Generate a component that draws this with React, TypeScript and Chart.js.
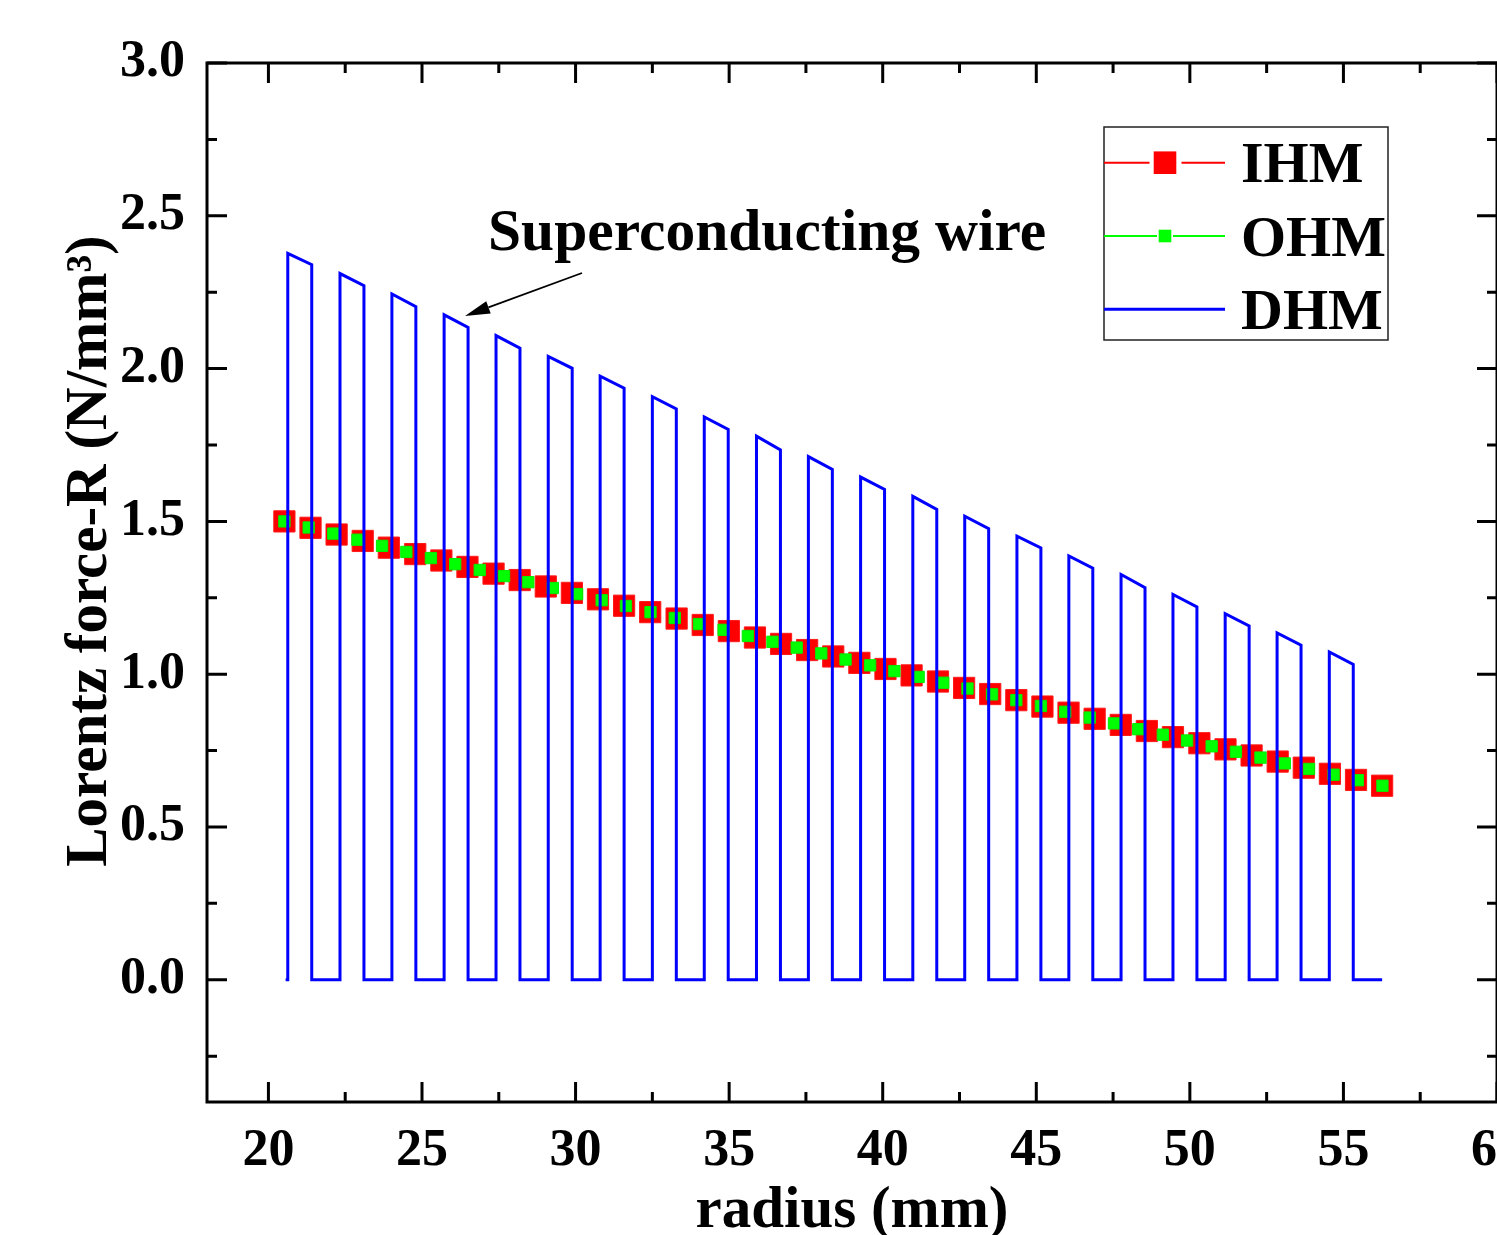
import React, { useEffect, useRef } from "react";
import { Chart, registerables } from "chart.js";

Chart.register(...registerables);

const FONT = '"Liberation Serif", "Times New Roman", Times, serif';

// ---- IHM (red squares)
const IHM_X = [20.52, 21.37, 22.22, 23.07, 23.92, 24.78, 25.63, 26.48, 27.33, 28.18, 29.03, 29.88, 30.73, 31.58, 32.43, 33.29, 34.14, 34.99, 35.84, 36.69, 37.54, 38.39, 39.24, 40.09, 40.94, 41.8, 42.65, 43.5, 44.35, 45.2, 46.05, 46.9, 47.75, 48.6, 49.45, 50.31, 51.16, 52.01, 52.86, 53.71, 54.56, 55.41, 56.26];
const IHM_Y = [1.5, 1.479, 1.457, 1.436, 1.414, 1.393, 1.372, 1.351, 1.329, 1.308, 1.287, 1.266, 1.245, 1.224, 1.203, 1.182, 1.161, 1.141, 1.12, 1.099, 1.079, 1.058, 1.037, 1.017, 0.996, 0.976, 0.955, 0.935, 0.915, 0.894, 0.874, 0.854, 0.834, 0.814, 0.794, 0.774, 0.754, 0.734, 0.714, 0.694, 0.674, 0.654, 0.635];

// ---- OHM (green squares)
const OHM_X = [20.52, 21.31, 22.11, 22.9, 23.7, 24.49, 25.29, 26.08, 26.88, 27.67, 28.46, 29.26, 30.05, 30.85, 31.64, 32.44, 33.23, 34.02, 34.82, 35.61, 36.41, 37.2, 38.0, 38.79, 39.59, 40.38, 41.17, 41.97, 42.76, 43.56, 44.35, 45.15, 45.94, 46.74, 47.53, 48.32, 49.12, 49.91, 50.71, 51.5, 52.3, 53.09, 53.88, 54.68, 55.47, 56.27];
const OHM_Y = [1.5, 1.48, 1.46, 1.44, 1.42, 1.4, 1.38, 1.36, 1.341, 1.321, 1.301, 1.282, 1.262, 1.242, 1.223, 1.203, 1.184, 1.164, 1.145, 1.125, 1.106, 1.087, 1.068, 1.048, 1.029, 1.01, 0.991, 0.972, 0.953, 0.934, 0.915, 0.896, 0.877, 0.858, 0.839, 0.82, 0.802, 0.783, 0.764, 0.746, 0.727, 0.708, 0.69, 0.671, 0.653, 0.635];

// ---- DHM (blue pulses: superconducting wire)
const DHM_START = 20.56;
const DHM_END = 56.26;
const DHM_RISE = [20.63, 22.33, 24.02, 25.72, 27.41, 29.11, 30.8, 32.5, 34.19, 35.89, 37.58, 39.28, 40.98, 42.67, 44.37, 46.06, 47.76, 49.45, 51.15, 52.84, 54.54];
const DHM_FALL = [21.41, 23.11, 24.8, 26.5, 28.19, 29.89, 31.58, 33.28, 34.97, 36.67, 38.36, 40.06, 41.76, 43.45, 45.15, 46.84, 48.54, 50.23, 51.93, 53.62, 55.32];
const DHM_PEAK_START = [2.377, 2.311, 2.244, 2.176, 2.108, 2.04, 1.975, 1.908, 1.842, 1.779, 1.712, 1.645, 1.582, 1.517, 1.452, 1.387, 1.326, 1.261, 1.198, 1.135, 1.073];
const DHM_PEAK_END = [2.34, 2.271, 2.203, 2.135, 2.067, 2.001, 1.936, 1.868, 1.801, 1.734, 1.67, 1.605, 1.539, 1.476, 1.413, 1.347, 1.283, 1.22, 1.158, 1.095, 1.032];

// ---- axes
const X_MIN = 18;
const X_MAX = 60;
const Y_MIN = -0.4;
const Y_MAX = 3.0;
const X_TICKS = [20, 25, 30, 35, 40, 45, 50, 55, 60];
const X_MINOR = [22.5, 27.5, 32.5, 37.5, 42.5, 47.5, 52.5, 57.5];
const Y_TICKS = [0, 0.5, 1.0, 1.5, 2.0, 2.5, 3.0];
const Y_MINOR = [-0.25, 0.25, 0.75, 1.25, 1.75, 2.25, 2.75];

const X_TITLE = "radius (mm)";
const Y_TITLE = "Lorentz force-R (N/mm\u00B3)";
const ANNOTATION = "Superconducting wire";
const SERIES_NAMES = ["IHM", "OHM", "DHM"];

function buildDhm() {
  const pts: { x: number; y: number }[] = [{ x: DHM_START, y: 0 }];
  for (let i = 0; i < DHM_RISE.length; i++) {
    pts.push({ x: DHM_RISE[i], y: 0 });
    pts.push({ x: DHM_RISE[i], y: DHM_PEAK_START[i] });
    pts.push({ x: DHM_FALL[i], y: DHM_PEAK_END[i] });
    pts.push({ x: DHM_FALL[i], y: 0 });
  }
  pts.push({ x: DHM_END, y: 0 });
  return pts;
}

const ZERO_PAD = () => ({ left: 0, right: 0, top: 0, bottom: 0 });

export default function App() {
  const ref = useRef<HTMLCanvasElement>(null);

  useEffect(() => {
    const canvas = ref.current;
    if (!canvas) return;

    const decor = {
      id: "decor",
      afterDraw(chart: any) {
        const ctx = chart.ctx as CanvasRenderingContext2D;
        const { left, right, top, bottom } = chart.chartArea;
        const xs = chart.scales.x;
        const ys = chart.scales.y;
        ctx.save();
        ctx.strokeStyle = "#000";
        ctx.lineWidth = 3;
        ctx.lineCap = "butt";
        // frame
        ctx.strokeRect(left, top, right - left, bottom - top);
        // ticks (inward, all sides)
        const MAJ = 20;
        const MIN = 10;
        ctx.beginPath();
        X_TICKS.forEach((v) => {
          const p = xs.getPixelForValue(v);
          ctx.moveTo(p, bottom);
          ctx.lineTo(p, bottom - MAJ);
          ctx.moveTo(p, top);
          ctx.lineTo(p, top + MAJ);
        });
        X_MINOR.forEach((v) => {
          const p = xs.getPixelForValue(v);
          ctx.moveTo(p, bottom);
          ctx.lineTo(p, bottom - MIN);
          ctx.moveTo(p, top);
          ctx.lineTo(p, top + MIN);
        });
        Y_TICKS.forEach((v) => {
          const p = ys.getPixelForValue(v);
          ctx.moveTo(left, p);
          ctx.lineTo(left + MAJ, p);
          ctx.moveTo(right, p);
          ctx.lineTo(right - MAJ, p);
        });
        Y_MINOR.forEach((v) => {
          const p = ys.getPixelForValue(v);
          ctx.moveTo(left, p);
          ctx.lineTo(left + MIN, p);
          ctx.moveTo(right, p);
          ctx.lineTo(right - MIN, p);
        });
        ctx.stroke();

        // axis titles
        ctx.fillStyle = "#000";
        ctx.font = `bold 59px ${FONT}`;
        ctx.textAlign = "center";
        ctx.textBaseline = "alphabetic";
        ctx.fillText(X_TITLE, (left + right) / 2, 1227);
        ctx.save();
        ctx.translate(106, 551);
        ctx.rotate(-Math.PI / 2);
        ctx.fillText(Y_TITLE, 0, 0);
        ctx.restore();

        // annotation
        ctx.font = `bold 59.5px ${FONT}`;
        ctx.textAlign = "left";
        ctx.fillText(ANNOTATION, 488, 250);
        // arrow
        const ax0 = 582, ay0 = 273, ax1 = 465, ay1 = 316;
        const ang = Math.atan2(ay1 - ay0, ax1 - ax0);
        const hl = 25, hw = 6.5;
        const bx = ax1 - hl * Math.cos(ang);
        const by = ay1 - hl * Math.sin(ang);
        ctx.strokeStyle = "#000";
        ctx.lineWidth = 1.8;
        ctx.beginPath();
        ctx.moveTo(ax0, ay0);
        ctx.lineTo(bx, by);
        ctx.stroke();
        ctx.beginPath();
        ctx.moveTo(ax1, ay1);
        ctx.lineTo(bx + hw * Math.sin(ang), by - hw * Math.cos(ang));
        ctx.lineTo(bx - hw * Math.sin(ang), by + hw * Math.cos(ang));
        ctx.closePath();
        ctx.fill();

        // legend
        ctx.lineWidth = 1.5;
        ctx.strokeStyle = "#222";
        ctx.strokeRect(1104, 127, 284, 213);
        // IHM
        ctx.strokeStyle = "#ff0000";
        ctx.lineWidth = 2;
        ctx.beginPath();
        ctx.moveTo(1104, 162.7);
        ctx.lineTo(1149.5, 162.7);
        ctx.moveTo(1181.5, 162.7);
        ctx.lineTo(1225, 162.7);
        ctx.stroke();
        ctx.fillStyle = "#ff0000";
        ctx.fillRect(1165 - 11.3, 162.7 - 11.3, 22.6, 22.6);
        // OHM
        ctx.strokeStyle = "#00ff00";
        ctx.beginPath();
        ctx.moveTo(1104, 236);
        ctx.lineTo(1157, 236);
        ctx.moveTo(1173, 236);
        ctx.lineTo(1225, 236);
        ctx.stroke();
        ctx.fillStyle = "#00ff00";
        ctx.fillRect(1165 - 6.3, 236 - 6.3, 12.6, 12.6);
        // DHM
        ctx.strokeStyle = "#0000ff";
        ctx.lineWidth = 3;
        ctx.beginPath();
        ctx.moveTo(1104, 309.3);
        ctx.lineTo(1225, 309.3);
        ctx.stroke();
        ctx.fillStyle = "#000";
        ctx.font = `bold 58px ${FONT}`;
        ctx.textAlign = "left";
        ctx.fillText(SERIES_NAMES[0], 1241, 182);
        ctx.fillText(SERIES_NAMES[1], 1241, 256);
        ctx.fillText(SERIES_NAMES[2], 1241, 329);
        ctx.restore();
      },
    };

    const tickFont = { family: FONT, size: 52, weight: "bold" as const };

    const chart = new Chart(canvas, {
      type: "scatter",
      data: {
        datasets: [
          {
            label: SERIES_NAMES[0],
            data: IHM_X.map((x, i) => ({ x, y: IHM_Y[i] })),
            showLine: false,
            pointStyle: "rect",
            pointRadius: 15,
            pointBackgroundColor: "#ff0000",
            pointBorderColor: "#ff1a1a",
            pointBorderWidth: 1,
            order: 3,
          },
          {
            label: SERIES_NAMES[1],
            data: OHM_X.map((x, i) => ({ x, y: OHM_Y[i] })),
            showLine: false,
            pointStyle: "rect",
            pointRadius: 8,
            pointBackgroundColor: "#00ff00",
            pointBorderColor: "#00ee00",
            pointBorderWidth: 1,
            order: 2,
          },
          {
            label: SERIES_NAMES[2],
            data: buildDhm(),
            showLine: true,
            borderColor: "#0000ff",
            borderWidth: 3,
            pointRadius: 0,
            tension: 0,
            order: 1,
          } as any,
        ],
      },
      options: {
        responsive: false,
        animation: false,
        devicePixelRatio: 1,
        layout: { autoPadding: false, padding: { top: 63, right: 0, left: 0, bottom: 0 } },
        plugins: {
          legend: { display: false },
          tooltip: { enabled: false },
        },
        scales: {
          x: {
            type: "linear",
            min: X_MIN,
            max: X_MAX,
            afterBuildTicks: (s: any) => {
              s.ticks = X_TICKS.map((v) => ({ value: v }));
              s.getPadding = ZERO_PAD;
            },
            afterFit: (s: any) => {
              s.height = 133;
              s.paddingLeft = 0;
              s.paddingRight = 0;
            },
            grid: { display: false, drawTicks: false },
            border: { display: false },
            ticks: {
              font: tickFont,
              color: "#000",
              padding: 18,
              maxRotation: 0,
              autoSkip: false,
              callback: (v: any) => String(v),
            },
          },
          y: {
            type: "linear",
            min: Y_MIN,
            max: Y_MAX,
            afterBuildTicks: (s: any) => {
              s.ticks = Y_TICKS.map((v) => ({ value: v }));
            },
            afterFit: (s: any) => {
              s.width = 207;
              s.paddingTop = 0;
              s.paddingBottom = 0;
            },
            grid: { display: false, drawTicks: false },
            border: { display: false },
            ticks: {
              font: tickFont,
              color: "#000",
              padding: 22,
              autoSkip: false,
              callback: (v: any) => Number(v).toFixed(1),
            },
          },
        },
      },
      plugins: [decor],
    });

    return () => chart.destroy();
  }, []);

  return (
    <canvas
      ref={ref}
      width={1497}
      height={1235}
      style={{ position: "absolute", left: 0, top: 0, display: "block" }}
    />
  );
}
